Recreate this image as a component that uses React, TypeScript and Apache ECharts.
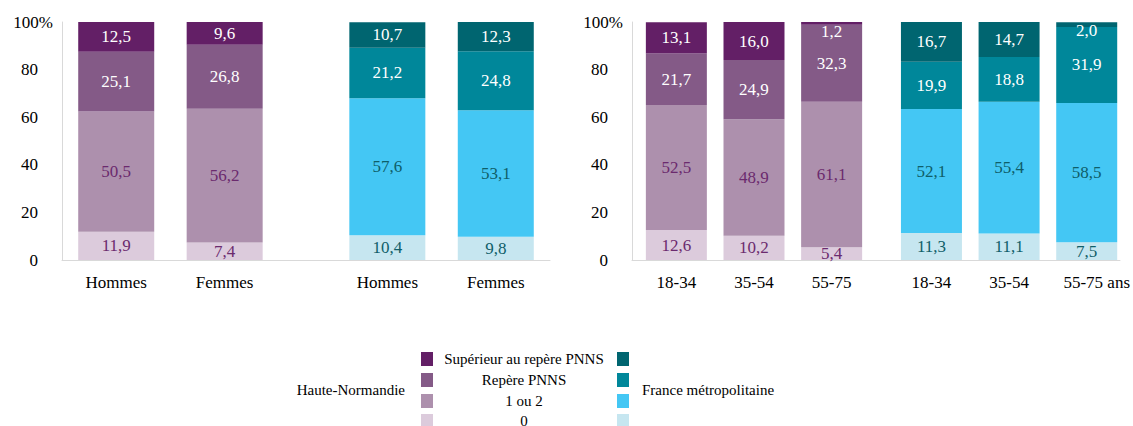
import React, { useEffect, useRef } from 'react';
import * as echarts from 'echarts';

// ---- Data ----
const levelNames = ['0', '1 ou 2', 'Repère PNNS', 'Supérieur au repère PNNS'];
const regionNames = ['Haute-Normandie', 'France métropolitaine'];
const sexCategories = ['Hommes', 'Femmes'];
const ageCategoriesHN = ['18-34', '35-54', '55-75'];
const ageCategoriesFR = ['18-34', '35-54', '55-75 ans'];
const yTicks = [0, 20, 40, 60, 80, 100];

// Per level: [0, 1 ou 2, Repère PNNS, Supérieur]
const hnSex0 = [11.9, 7.4];
const hnSex12 = [50.5, 56.2];
const hnSexRep = [25.1, 26.8];
const hnSexSup = [12.5, 9.6];
const frSex0 = [10.4, 9.8];
const frSex12 = [57.6, 53.1];
const frSexRep = [21.2, 24.8];
const frSexSup = [10.7, 12.3];

const hnAge0 = [12.6, 10.2, 5.4];
const hnAge12 = [52.5, 48.9, 61.1];
const hnAgeRep = [21.7, 24.9, 32.3];
const hnAgeSup = [13.1, 16.0, 1.2];
const frAge0 = [11.3, 11.1, 7.5];
const frAge12 = [52.1, 55.4, 58.5];
const frAgeRep = [19.9, 18.8, 31.9];
const frAgeSup = [16.7, 14.7, 2.0];

// ---- Layout / styles ----
const FONT = 'Liberation Serif';
const hnColors = ['#dccbdc', '#ad90ad', '#845a87', '#631f66'];
const frColors = ['#c6e6f0', '#44c7f4', '#00879a', '#006570'];
const hnLightText = '#6b2a6e';
const frLightText = '#0f5e69';

const charts = [
  {
    slots: 10,
    grid: { left: 62, top: 22, width: 488, height: 238 },
    barWidth: 76,
    groups: [
      { cats: sexCategories, pos: [1, 3], levels: [hnSex0, hnSex12, hnSexRep, hnSexSup], colors: hnColors, light: hnLightText },
      { cats: sexCategories, pos: [6, 8], levels: [frSex0, frSex12, frSexRep, frSexSup], colors: frColors, light: frLightText },
    ],
  },
  {
    slots: 45,
    grid: { left: 632, top: 22, width: 489, height: 238 },
    barWidth: 61,
    groups: [
      { cats: ageCategoriesHN, pos: [4, 11, 18], levels: [hnAge0, hnAge12, hnAgeRep, hnAgeSup], colors: hnColors, light: hnLightText },
      { cats: ageCategoriesFR, pos: [27, 34, 41], levels: [frAge0, frAge12, frAgeRep, frAgeSup], colors: frColors, light: frLightText },
    ],
  },
];

// label nudges for very thin top segments: [chart, group, level, index, dy]
const labelNudges: Array<[number, number, number, number, number]> = [
  [1, 0, 3, 2, 8],
  [1, 1, 3, 2, 6],
];

const fmt = (v: number) => v.toFixed(1).replace('.', ',');

export default function App() {
  const ref = useRef<HTMLDivElement>(null);
  useEffect(() => {
    if (!ref.current) return;
    const chart = echarts.init(ref.current, undefined, { renderer: 'svg' });

    const xAxis: any[] = [];
    const yAxis: any[] = [];
    const series: any[] = [];

    charts.forEach((c, ci) => {
      const catData: any[] = new Array(c.slots).fill('');
      c.groups.forEach((g) => {
        g.pos.forEach((p, i) => {
          const name = g.cats[i];
          catData[p] = name === '55-75 ans' ? { value: name, textStyle: { padding: [0, 0, 0, 20] } } : name;
        });
      });
      xAxis.push({
        type: 'category',
        gridIndex: ci,
        boundaryGap: false,
        data: catData,
        axisLine: { lineStyle: { color: '#d9d9d9', width: 1 } },
        axisTick: { show: false },
        axisLabel: { interval: 0, margin: 14, color: '#000', fontFamily: FONT, fontSize: 17 },
        splitLine: { show: false },
      });
      yAxis.push({
        type: 'value',
        gridIndex: ci,
        min: 0,
        max: 100,
        interval: 20,
        splitLine: { show: false },
        axisLine: { show: true, lineStyle: { color: '#d9d9d9', width: 1 } },
        axisTick: { show: false },
        axisLabel: {
          margin: 9,
          color: '#000',
          fontFamily: FONT,
          fontSize: 17,
          formatter: (v: number) => (v === yTicks[yTicks.length - 1] ? '{a|' + v + '%}' : '{p|' + v + '}'),
          rich: {
            a: { fontFamily: FONT, fontSize: 17, color: '#000' },
            p: { padding: [0, 15, 0, 0], fontFamily: FONT, fontSize: 17, color: '#000' },
          },
        },
      });
      c.groups.forEach((g, gi) => {
        g.levels.forEach((vals, li) => {
          const data: any[] = new Array(c.slots).fill('-');
          g.pos.forEach((p, i) => {
            const nudge = labelNudges.find((n) => n[0] === ci && n[1] === gi && n[2] === li && n[3] === i);
            data[p] = nudge ? { value: vals[i], label: { offset: [0, nudge[4]] } } : vals[i];
          });
          series.push({
            type: 'bar',
            name: regionNames[gi] + ' - ' + levelNames[li],
            xAxisIndex: ci,
            yAxisIndex: ci,
            stack: 'stack' + ci,
            barWidth: c.barWidth,
            data,
            itemStyle: { color: g.colors[li] },
            label: {
              show: true,
              position: 'inside',
              fontFamily: FONT,
              fontSize: 17,
              color: li < 2 ? g.light : '#ffffff',
              formatter: (p: any) => fmt(Number(p.value)),
            },
          });
        });
      });
    });

    // legend graphic
    const graphic: any[] = [];
    const rowY = [352, 373, 394, 414];
    const legendOrder = [3, 2, 1, 0];
    const txt = { fill: '#000', fontFamily: FONT, fontSize: 15, verticalAlign: 'middle' };
    legendOrder.forEach((li, r) => {
      graphic.push({ type: 'rect', left: 421, top: rowY[r], shape: { width: 12, height: 14 }, style: { fill: hnColors[li] } });
      graphic.push({ type: 'rect', left: 617, top: rowY[r], shape: { width: 12, height: 14 }, style: { fill: frColors[li] } });
      graphic.push({
        type: 'text',
        x: 524,
        y: rowY[r] + 7,
        style: { ...txt, text: levelNames[li], align: 'center' },
      });
    });
    graphic.push({ type: 'text', x: 405, y: 390, style: { ...txt, text: regionNames[0], align: 'right' } });
    graphic.push({ type: 'text', x: 642, y: 390, style: { ...txt, text: regionNames[1], align: 'left' } });

    chart.setOption({
      animation: false,
      backgroundColor: '#ffffff',
      grid: charts.map((c) => c.grid),
      xAxis,
      yAxis,
      series,
      graphic,
    });
    return () => chart.dispose();
  }, []);
  return <div ref={ref} style={{ position: 'fixed', left: 0, top: 0, width: 1133, height: 426 }} />;
}
